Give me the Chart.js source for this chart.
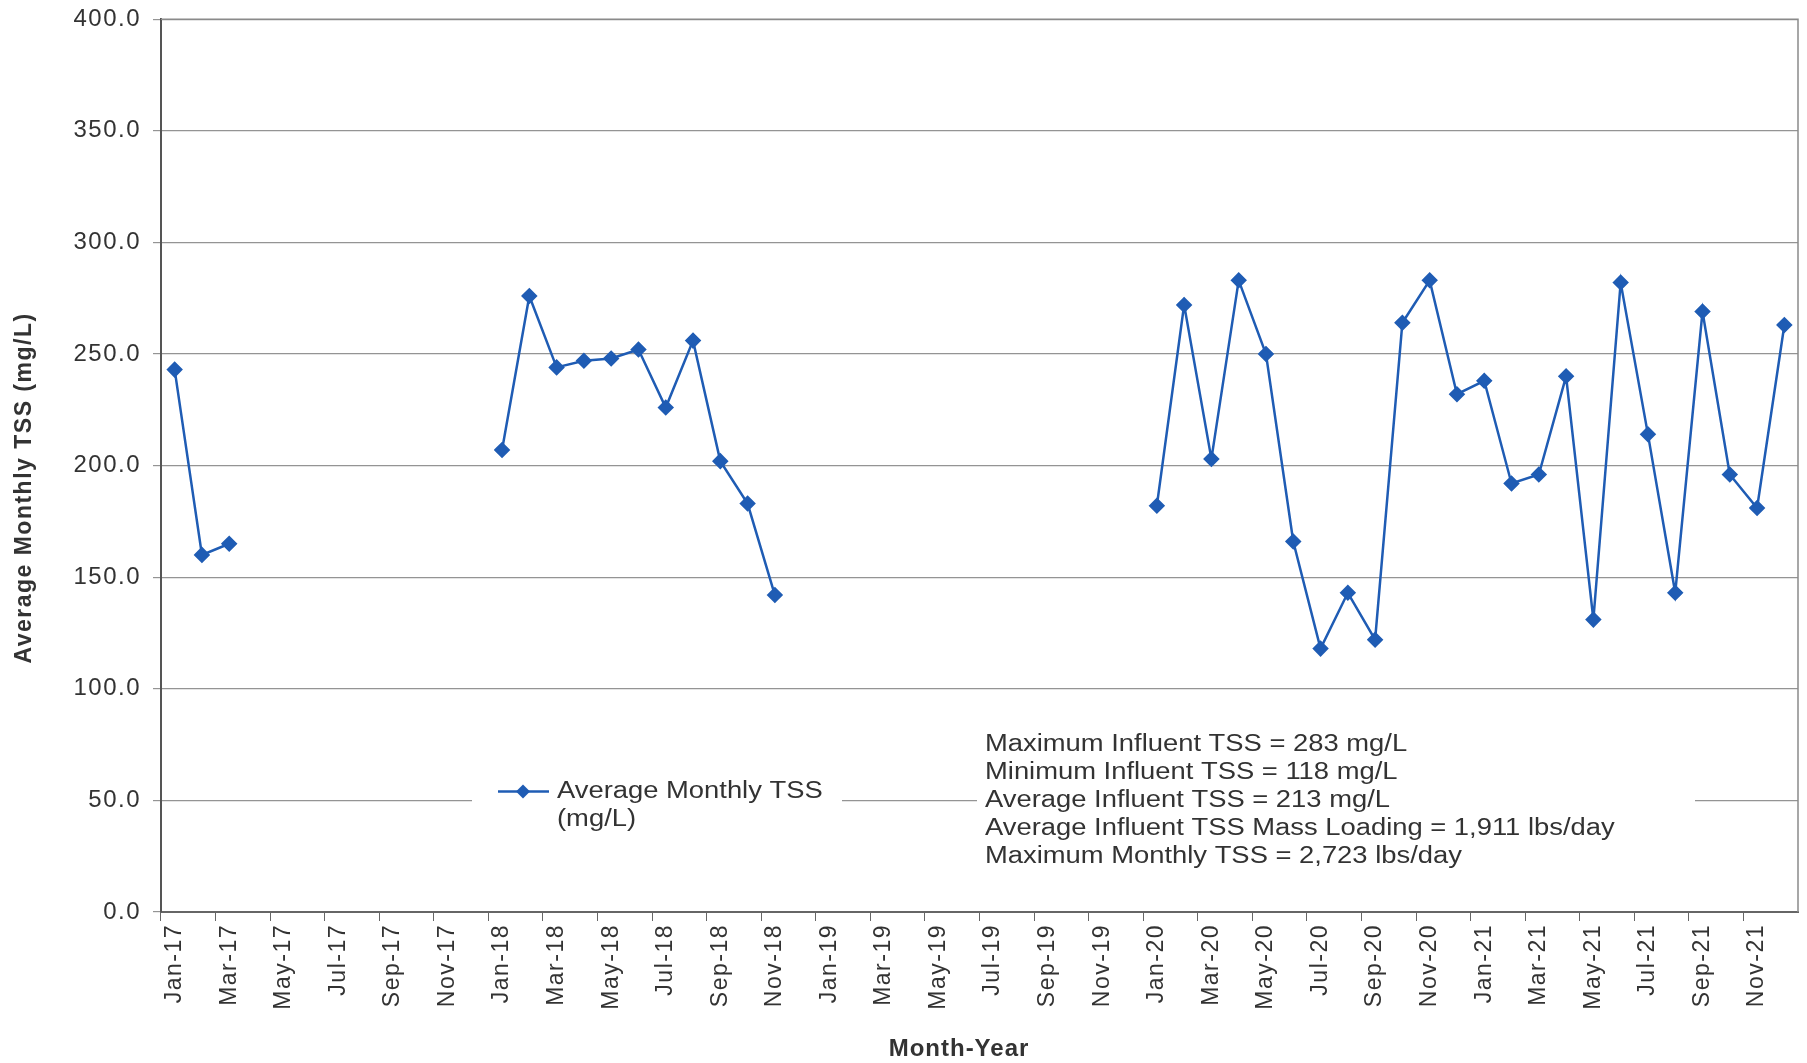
<!DOCTYPE html>
<html>
<head>
<meta charset="utf-8">
<script src="https://cdn.jsdelivr.net/npm/chart.js@4.4.0/dist/chart.umd.min.js"></script>
<style>
  html, body { margin: 0; padding: 0; background: #fff; }
  #wrap { width: 1807px; height: 1063px; }
</style>
</head>
<body>
<div id="wrap"><canvas id="grafica" width="1807" height="1063"></canvas></div>
<script>
const meses = ["Jan", "Feb", "Mar", "Apr", "May", "Jun", "Jul", "Aug", "Sep", "Oct", "Nov", "Dec"];
const anios = ["17", "18", "19", "20", "21"];
const etiquetas = [];
anios.forEach(a => meses.forEach(m => etiquetas.push(m + "-" + a)));

// one value per month, null where no data
const tss2017 = [243, 160, 165, null, null, null, null, null, null, null, null, null];
const tss2018 = [207, 276, 244, 247, 248, 252, 226, 256, 202, 183, 142, null];
const tss2019 = [null, null, null, null, null, null, null, null, null, null, null, null];
const tss2020 = [182, 272, 203, 283, 250, 166, 118, 143, 122, 264, 283, 232];
const tss2021 = [238, 192, 196, 240, 131, 282, 214, 143, 269, 196, 181, 263];
const valores = [].concat(tss2017, tss2018, tss2019, tss2020, tss2021);

const resumen = [
    "Maximum Influent TSS = 283 mg/L",
    "Minimum Influent TSS = 118 mg/L",
    "Average Influent TSS = 213 mg/L",
    "Average Influent TSS Mass Loading = 1,911 lbs/day",
    "Maximum Monthly TSS = 2,723 lbs/day"
];

const tituloX = "Month-Year";
const tituloY = "Average Monthly TSS (mg/L)";

const azul = "#1f5cb4";
const fuente = "'Liberation Sans', Arial, sans-serif";

// wider letters for the axis texts, like the scanned original
const espaciado = {
    id: "espaciado",
    beforeDraw(chart) { chart.ctx.letterSpacing = "1.5px"; },
    beforeDatasetsDraw(chart) { chart.ctx.letterSpacing = "0px"; }
};

// axis titles (placed a bit off-centre, as in the original)
const titulos = {
    id: "titulos",
    afterDraw(chart) {
        const c = chart.ctx;
        c.save();
        c.fillStyle = "#333";
        c.textAlign = "center";
        c.textBaseline = "middle";
        c.letterSpacing = "1.5px";
        c.font = "bold 23px " + fuente;
        c.translate(25, 488);
        c.rotate(-Math.PI / 2);
        c.fillText(tituloY, 0, 0);
        c.restore();

        c.save();
        c.fillStyle = "#333";
        c.textAlign = "center";
        c.textBaseline = "middle";
        c.letterSpacing = "1px";
        c.font = "bold 24px " + fuente;
        c.fillText(tituloX, 959, 1049);
        c.restore();
    }
};

// legend + stats box drawn inside the plot, over the 50 gridline
const cajas = {
    id: "cajas",
    afterDatasetsDraw(chart) {
        const c = chart.ctx;
        const a = chart.chartArea;
        const y = chart.scales.y;
        const y50 = y.getPixelForValue(50);
        c.save();
        // border around plot area
        c.strokeStyle = "#8a8a8a";
        c.lineWidth = 1.5;
        c.beginPath();
        c.moveTo(a.left, a.top); c.lineTo(a.right, a.top); c.lineTo(a.right, a.bottom);
        c.stroke();

        c.fillStyle = "#fff";
        c.fillRect(472, y50 - 40, 370, 80);
        c.fillRect(977, y50 - 60, 718, 140);

        // legend
        c.strokeStyle = azul;
        c.lineWidth = 2.5;
        c.beginPath(); c.moveTo(498, y50 - 9); c.lineTo(549, y50 - 9); c.stroke();
        c.fillStyle = azul;
        c.beginPath();
        c.moveTo(523, y50 - 16); c.lineTo(530, y50 - 9); c.lineTo(523, y50 - 2); c.lineTo(516, y50 - 9);
        c.closePath(); c.fill();

        c.fillStyle = "#333";
        c.font = "23px " + fuente;
        c.textBaseline = "middle";
        const texto = (t, x, yy) => {
            c.save();
            c.translate(x, yy);
            c.scale(1.19, 1);
            c.fillText(t, 0, 0);
            c.restore();
        };
        texto("Average Monthly TSS", 557, y50 - 9);
        texto("(mg/L)", 557, y50 + 19);

        // stats
        resumen.forEach((t, i) => texto(t, 985, y50 - 56 + i * 28));
        c.restore();
    }
};

const data = {
    labels: etiquetas,
    datasets: [
        {
            label: "Average Monthly TSS (mg/L)",
            data: valores,
            borderColor: azul,
            backgroundColor: azul,
            borderWidth: 2.5,
            pointStyle: "rectRot",
            pointRadius: 6.5,
            pointHoverRadius: 6.5,
            spanGaps: false,
            tension: 0
        }
    ]
};

const config = {
    type: "line",
    data: data,
    plugins: [espaciado, cajas, titulos],
    options: {
        responsive: false,
        animation: false,
        layout: { padding: { top: 10, right: 6, left: 0, bottom: 0 } },
        plugins: { legend: { display: false }, tooltip: { enabled: false } },
        scales: {
            x: {
                offset: true,
                afterFit: s => { s.height = 151; },
                grid: {
                    offset: true,
                    drawOnChartArea: false,
                    tickLength: 9,
                    color: ctx => (ctx.index % 2 === 0 ? "#666" : "rgba(0,0,0,0)")
                },
                border: { color: "#666", width: 2 },
                ticks: {
                    autoSkip: false,
                    maxRotation: 90,
                    minRotation: 90,
                    padding: 3,
                    color: "#333",
                    font: { family: fuente, size: 23, lineHeight: 0.4 },
                    callback: function (v, i) { return i % 2 === 0 ? this.getLabelForValue(v) : ""; }
                }
            },
            y: {
                min: 0,
                max: 400,
                afterFit: s => { s.width = 161; },
                grid: { color: "#949494", lineWidth: 1.2, tickLength: 8 },
                border: { color: "#555", width: 2 },
                ticks: {
                    stepSize: 50,
                    padding: 12,
                    color: "#333",
                    font: { family: fuente, size: 24, lineHeight: 0.6 },
                    callback: v => v.toFixed(1)
                }
            }
        }
    }
};

const ctx = document.getElementById("grafica").getContext("2d");
const graficaTSS = new Chart(ctx, config);
</script>
</body>
</html>
